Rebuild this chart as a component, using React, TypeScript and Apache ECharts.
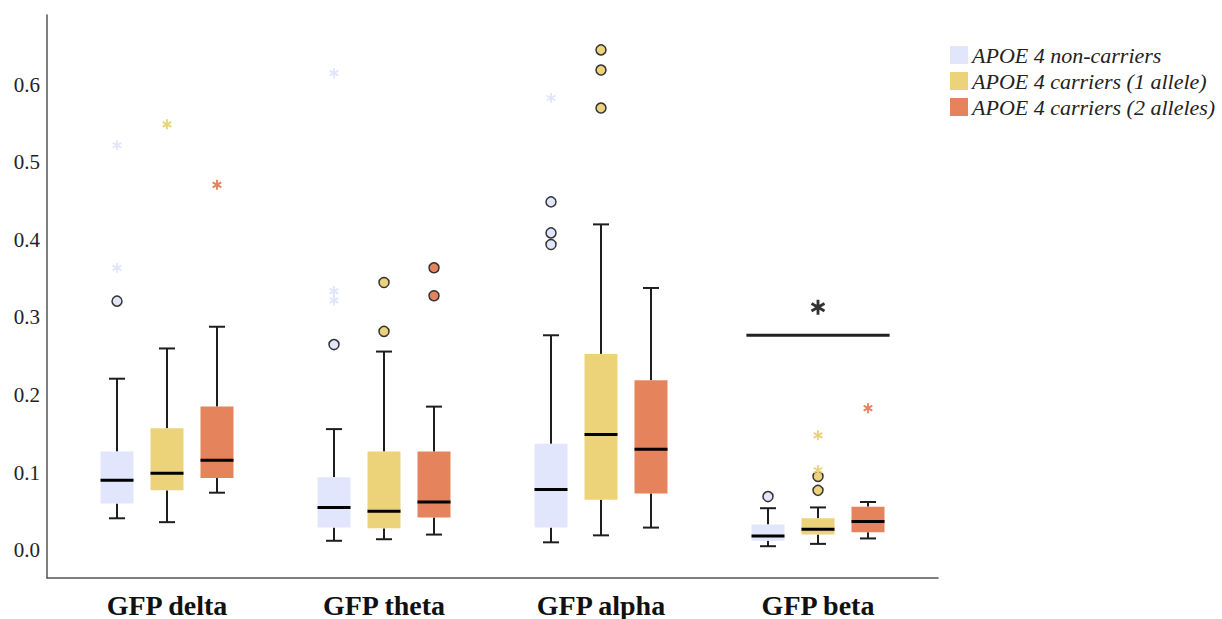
import React, { useEffect, useRef } from "react";
import * as echarts from "echarts";

const categories = ["GFP delta", "GFP theta", "GFP alpha", "GFP beta"];
const yTicks = [0, 0.1, 0.2, 0.3, 0.4, 0.5, 0.6];
const seriesNames = [
  "APOE 4 non-carriers",
  "APOE 4 carriers (1 allele)",
  "APOE 4 carriers (2 alleles)",
];
const seriesColors = ["#E1E6FD", "#ECD37A", "#E5835D"];

// [low whisker, Q1, median, Q3, high whisker] per category
const nonCarriersBox = [
  [0.041, 0.06, 0.09, 0.127, 0.221],
  [0.012, 0.029, 0.055, 0.094, 0.156],
  [0.01, 0.029, 0.078, 0.137, 0.277],
  [0.005, 0.012, 0.018, 0.033, 0.054],
];
const carriers1Box = [
  [0.036, 0.077, 0.099, 0.157, 0.26],
  [0.014, 0.028, 0.05, 0.127, 0.256],
  [0.019, 0.065, 0.149, 0.253, 0.42],
  [0.008, 0.02, 0.027, 0.041, 0.055],
];
const carriers2Box = [
  [0.074, 0.093, 0.116, 0.185, 0.288],
  [0.02, 0.042, 0.062, 0.127, 0.185],
  [0.029, 0.073, 0.13, 0.219, 0.338],
  [0.015, 0.023, 0.037, 0.056, 0.062],
];

// outliers: [category index, value]
const nonCarriersCircles = [[0, 0.321], [1, 0.265], [2, 0.449], [2, 0.409], [2, 0.394], [3, 0.069]];
const nonCarriersStars = [[0, 0.364], [0, 0.522], [1, 0.334], [1, 0.322], [1, 0.615], [2, 0.583]];
const carriers1Circles = [[1, 0.345], [1, 0.282], [2, 0.645], [2, 0.619], [2, 0.57], [3, 0.095], [3, 0.077]];
const carriers1Stars = [[0, 0.549], [3, 0.148], [3, 0.103]];
const carriers2Circles = [[1, 0.364], [1, 0.328]];
const carriers2Stars = [[0, 0.471], [3, 0.183]];

// significance annotation over GFP beta
const sigCategory = 3;
const sigHalfSpan = 0.33;
const sigLineValue = 0.277;
const sigStarValue = 0.313;

const boxes = [nonCarriersBox, carriers1Box, carriers2Box];
const circles = [nonCarriersCircles, carriers1Circles, carriers2Circles];
const stars = [nonCarriersStars, carriers1Stars, carriers2Stars];

const OFFSETS = [-0.2304, 0, 0.2304];
const BOX_W = 0.152;
const CAP_W = 0.074;

function asteriskPath(): string {
  const L = 1;
  const W = 0.19;
  let d = "";
  [90, 30, -30].forEach((deg) => {
    const a = (deg * Math.PI) / 180;
    const dx = Math.cos(a), dy = Math.sin(a);
    const nx = -dy, ny = dx;
    const pts = [
      [L * dx + W * nx, L * dy + W * ny],
      [-L * dx + W * nx, -L * dy + W * ny],
      [-L * dx - W * nx, -L * dy - W * ny],
      [L * dx - W * nx, L * dy - W * ny],
    ];
    d += "M" + pts.map((p) => p[0].toFixed(3) + " " + p[1].toFixed(3)).join(" L") + " Z ";
  });
  return "path://" + d;
}

export default function App() {
  const ref = useRef<HTMLDivElement>(null);
  useEffect(() => {
    if (!ref.current) return;
    const chart = echarts.init(ref.current, null, { renderer: "svg" });
    const star = asteriskPath();
    const series: any[] = [];
    boxes.forEach((box, si) => {
      const off = OFFSETS[si];
      const color = seriesColors[si];
      series.push({
        type: "custom",
        name: seriesNames[si],
        color,
        itemStyle: { color },
        encode: { x: 0, y: [1, 2, 3, 4, 5] },
        data: box.map((b, i) => [i, ...b]),
        renderItem: (params: any, api: any) => {
          const x = api.value(0) + off;
          const low = api.coord([x, api.value(1)]);
          const q1 = api.coord([x, api.value(2)]);
          const med = api.coord([x, api.value(3)]);
          const q3 = api.coord([x, api.value(4)]);
          const high = api.coord([x, api.value(5)]);
          const bw = api.size([BOX_W, 0])[0];
          const cw = api.size([CAP_W, 0])[0];
          const ws = { stroke: "#1e1e1e", lineWidth: 2 };
          return {
            type: "group",
            children: [
              { type: "line", shape: { x1: low[0], y1: low[1], x2: q1[0], y2: q1[1] }, style: ws },
              { type: "line", shape: { x1: q3[0], y1: q3[1], x2: high[0], y2: high[1] }, style: ws },
              { type: "line", shape: { x1: low[0] - cw / 2, y1: low[1], x2: low[0] + cw / 2, y2: low[1] }, style: ws },
              { type: "line", shape: { x1: high[0] - cw / 2, y1: high[1], x2: high[0] + cw / 2, y2: high[1] }, style: ws },
              {
                type: "rect",
                shape: { x: q3[0] - bw / 2, y: q3[1], width: bw, height: q1[1] - q3[1] },
                style: { fill: color },
              },
              {
                type: "line",
                shape: { x1: med[0] - bw / 2, y1: med[1], x2: med[0] + bw / 2, y2: med[1] },
                style: { stroke: "#000", lineWidth: 3 },
              },
            ],
          };
        },
      });
      series.push({
        type: "scatter",
        name: seriesNames[si],
        symbol: "circle",
        symbolSize: 10,
        itemStyle: { color, borderColor: "#333", borderWidth: 1.5, opacity: 1 },
        data: circles[si].map((p) => [p[0] + off, p[1]]),
        z: 3,
      });
      series.push({
        type: "scatter",
        name: seriesNames[si],
        symbol: star,
        symbolKeepAspect: true,
        symbolSize: 10,
        itemStyle: { color, opacity: 1 },
        data: stars[si].map((p) => [p[0] + off, p[1]]),
        z: 3,
      });
    });
    series.push({
      type: "line",
      name: "sig",
      silent: true,
      symbol: "none",
      lineStyle: { color: "#222", width: 3 },
      data: [
        [sigCategory - sigHalfSpan, sigLineValue],
        [sigCategory + sigHalfSpan, sigLineValue],
      ],
      z: 4,
    });
    series.push({
      type: "scatter",
      name: "sigStar",
      silent: true,
      symbol: star,
      symbolKeepAspect: true,
      symbolSize: 15,
      itemStyle: { color: "#000" },
      data: [[sigCategory, sigStarValue]],
      z: 4,
    });

    chart.setOption({
      animation: false,
      textStyle: { fontFamily: "Liberation Serif" },
      grid: { left: 47, top: 15, right: 284, bottom: 38, containLabel: false },
      legend: {
        orient: "vertical",
        left: 945,
        top: 39,
        itemWidth: 18,
        itemHeight: 18,
        itemGap: 4,
        icon: "rect",
        data: seriesNames.map((n, i) => ({ name: n, itemStyle: { color: seriesColors[i] } })),
        textStyle: {
          fontFamily: "Liberation Serif",
          fontStyle: "italic",
          fontSize: 22,
          lineHeight: 22,
          color: "#222",
          padding: [0, 0, 0, -1],
        },
      },
      xAxis: {
        type: "value",
        min: -0.553,
        max: 3.553,
        splitLine: { show: false },
        axisTick: { show: false },
        axisLine: { onZero: false, lineStyle: { color: "#555", width: 1.5 } },
        axisLabel: {
          customValues: [0, 1, 2, 3],
          formatter: (v: number) => categories[Math.round(v)] ?? "",
          fontFamily: "Liberation Serif",
          fontWeight: "bold",
          fontSize: 28,
          color: "#111",
          margin: 13,
        },
      },
      yAxis: {
        type: "value",
        min: -0.036,
        max: 0.69,
        splitLine: { show: false },
        axisTick: { show: false },
        axisLine: { show: true, onZero: false, lineStyle: { color: "#555", width: 1.5 } },
        axisLabel: {
          customValues: yTicks,
          formatter: (v: number) => v.toFixed(1),
          fontFamily: "Liberation Serif",
          fontSize: 21,
          color: "#222",
          margin: 7,
        },
      },
      series,
    });
    return () => chart.dispose();
  }, []);
  return (
    <div
      ref={ref}
      style={{ position: "fixed", left: 0, top: 0, width: 1222, height: 619, background: "#fff" }}
    />
  );
}
